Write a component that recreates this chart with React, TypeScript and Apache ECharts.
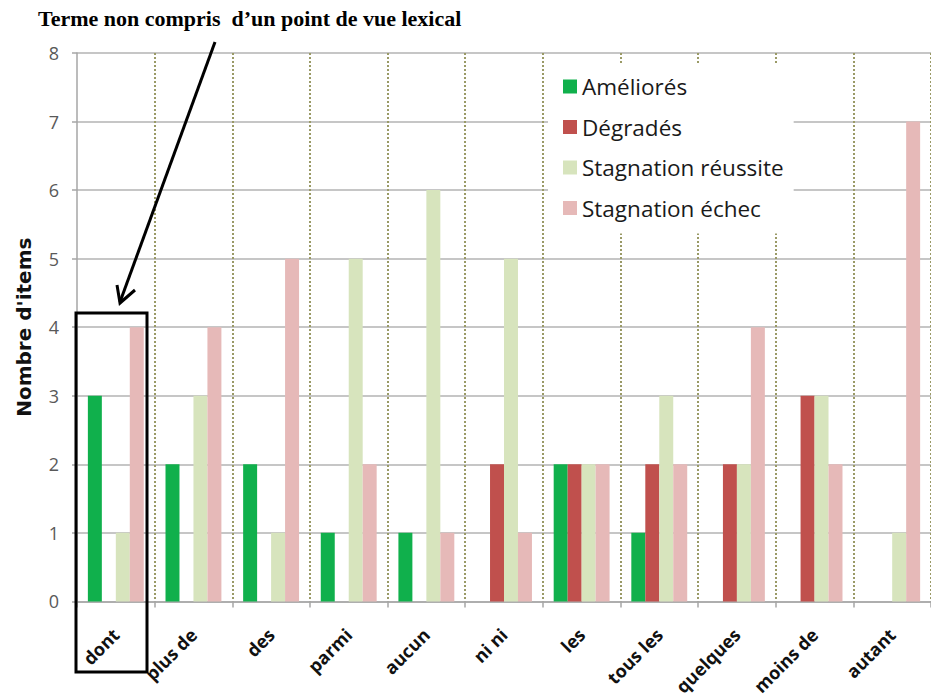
import React, { useEffect, useRef } from "react";
import * as echarts from "echarts";

const categories = ["dont", "plus de", "des", "parmi", "aucun", "ni ni", "les", "tous les", "quelques", "moins de", "autant"];
const seriesNames = ["Améliorés", "Dégradés", "Stagnation réussite", "Stagnation échec"];
const ameliores = [3, 2, 2, 1, 1, 0, 2, 1, 0, 0, 0];
const degrades = [0, 0, 0, 0, 0, 2, 2, 2, 2, 3, 0];
const stagReussite = [1, 3, 1, 5, 6, 5, 2, 3, 2, 3, 1];
const stagEchec = [4, 4, 5, 2, 1, 1, 2, 2, 4, 2, 7];
const colors = ["#10B04C", "#C0504D", "#D7E4BD", "#E6B9B8"];
const annotationText = "Terme non compris  d\u2019un point de vue lexical";
const yAxisName = "Nombre d'items";

export default function App() {
  const ref = useRef<HTMLDivElement>(null);
  useEffect(() => {
    if (!ref.current) return;
    const chart = echarts.init(ref.current, undefined, { renderer: "svg" });
    const data = [ameliores, degrades, stagReussite, stagEchec];
    const font = "'Open Sans', 'Liberation Sans', sans-serif";
    chart.setOption({
      animation: false,
      backgroundColor: "#ffffff",
      grid: { left: 77, top: 53, width: 858, height: 549, containLabel: false },
      legend: {
        orient: "vertical",
        left: 548,
        top: 63,
        padding: [12, 10, 14, 15],
        backgroundColor: "#ffffff",
        itemWidth: 14,
        itemHeight: 14,
        itemGap: 17.5,
        icon: "rect",
        data: seriesNames,
        textStyle: { fontFamily: font, fontSize: 22.5, color: "#1a1a1a", lineHeight: 22 },
      },
      xAxis: {
        type: "category",
        data: categories,
        boundaryGap: true,
        axisLine: { show: true, lineStyle: { color: "#a6a6a6", width: 1.5 } },
        axisTick: { show: true, length: 6, lineStyle: { color: "#a6a6a6", width: 1.5 } },
        axisLabel: {
          interval: 0,
          rotate: 45,
          margin: 30,
          fontFamily: font,
          fontWeight: "bold",
          fontSize: 18,
          color: "#111111",
        },
        splitLine: {
          show: true,
          showMinLine: false,
          lineStyle: { color: "#9a9a66", type: [2, 2], width: 2 },
        },
      },
      yAxis: {
        type: "value",
        min: 0,
        max: 8,
        interval: 1,
        name: yAxisName,
        nameLocation: "middle",
        nameGap: 43,
        nameRotate: 90,
        nameTextStyle: { fontFamily: "'DejaVu Sans', sans-serif", fontWeight: "bold", fontSize: 20, color: "#111111" },
        axisLine: { show: true, lineStyle: { color: "#a6a6a6", width: 1.5 } },
        axisTick: { show: true, length: 5, lineStyle: { color: "#a6a6a6", width: 1.5 } },
        axisLabel: { margin: 18, fontFamily: font, fontSize: 18, color: "#595959" },
        splitLine: { show: true, lineStyle: { color: "#b3b3b3", width: 1.5 } },
      },
      series: seriesNames.map((name, i) => ({
        name,
        type: "bar",
        data: data[i],
        barGap: "0%",
        barCategoryGap: "28%",
        itemStyle: { color: colors[i] },
      })),
      graphic: [
        {
          type: "text",
          left: 38,
          top: 7,
          z: 100,
          style: {
            text: annotationText,
            fontFamily: "'Liberation Serif', 'DejaVu Serif', serif",
            fontSize: 22,
            fontWeight: "bold",
            fill: "#000000",
          },
        },
        {
          type: "line",
          z: 100,
          shape: { x1: 215, y1: 42, x2: 120, y2: 302 },
          style: { stroke: "#000000", lineWidth: 3 },
        },
        {
          type: "polyline",
          z: 100,
          shape: { points: [[117, 285], [120, 303], [135, 290]] },
          style: { stroke: "#000000", lineWidth: 3, fill: null },
        },
        {
          type: "rect",
          z: 100,
          shape: { x: 76, y: 313, width: 71, height: 359 },
          style: { stroke: "#000000", lineWidth: 3, fill: null },
        },
      ],
    });
    return () => chart.dispose();
  }, []);
  return (
    <div
      ref={ref}
      style={{ position: "fixed", left: 0, top: 0, width: 931, height: 698 }}
    />
  );
}
